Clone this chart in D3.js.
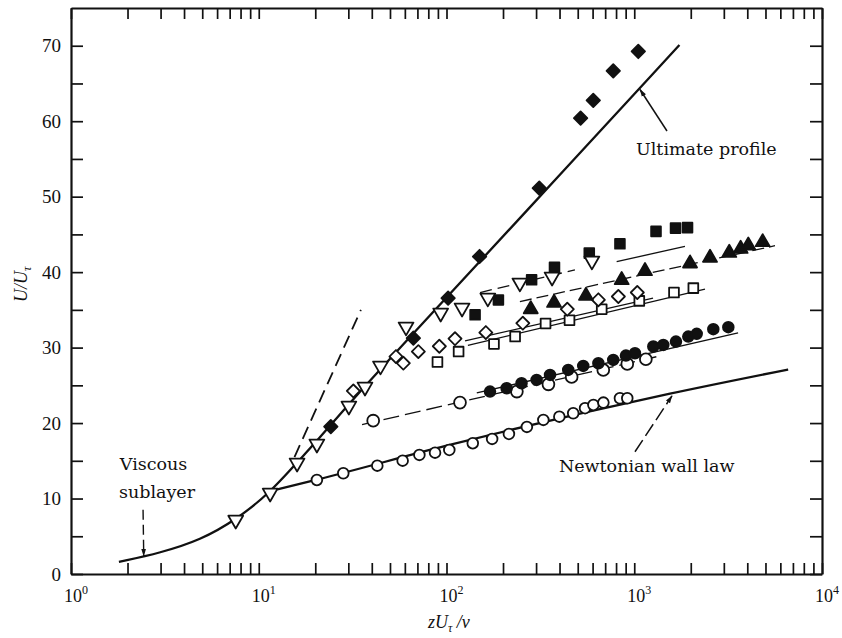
<!DOCTYPE html>
<html>
<head>
<meta charset="utf-8">
<script src="https://cdn.jsdelivr.net/npm/d3@7"></script>
<style>
  body { margin: 0; background: #fff; }
  svg text { font-family: "Liberation Serif", "DejaVu Serif", serif; fill: #111; }
  .axis path, .axis line { stroke: #111; }
  .axis path { stroke-width: 2.2; }
  .axis line { stroke-width: 1.7; }
  .note { font-family: "DejaVu Serif", serif; font-size: 17.5px; }
</style>
</head>
<body>
<svg id="chart" width="842" height="638"></svg>
<script>
// Every pair is [zU_tau/nu, U/U_tau].

// solid curve: viscous sublayer running into the ultimate profile
const ultimateProfile = [[1.8, 1.6], [3, 2.8], [4.9, 4.5], [7.6, 7.2], [11.5, 10.8], [16, 14.8],
  [20.4, 17.6], [30, 22.5], [66, 31.8], [241, 46.9], [1740, 70.1]];
// dashed U = z continuation
const sublayerDash = [[15.5, 15.5], [35, 35]];
const newtonianWallLaw = [[12.5, 11.2], [20.4, 12.5], [100, 17.0], [1550, 23.9], [6600, 27.1]];

// fitted lines through the groups
const circleLine = [[35.5, 19.8], [1372, 28.9]];
const dotLine = [[145, 24.0], [3573, 31.95]];
const diamondLine = [[125.5, 30.9], [1259, 36.55]];
const squareLine = [[130, 30.3], [2381, 37.74]];
const triangleUpLine = [[246, 36.1], [5620, 43.5]];
const triangleDownLine = [[151, 37.3], [483, 40.3]];
const blockLine = [[806, 41.4], [1862, 43.4]];

// measured points
const openTriangles = [[7.54, 7.16], [11.5, 10.74], [16.0, 14.72], [20.4, 17.24], [30.2, 22.27],
  [36.8, 24.79], [44.5, 27.58], [60.9, 32.75], [93.1, 34.6], [121, 35.26], [166, 36.59],
  [246, 38.58], [365, 39.37], [595, 41.5]];
const filledDiamonds = [[24.2, 19.53], [66.6, 31.25], [102, 36.55], [150, 42.07], [312, 51.13],
  [518, 60.41], [605, 62.75], [773, 66.68], [1051, 69.24]];
const wallCircles = [[20.4, 12.46], [28.2, 13.35], [42.8, 14.36], [58.4, 15.02], [71.7, 15.78],
  [86.9, 16.08], [103.5, 16.44], [138, 17.33], [175, 17.9], [215, 18.56], [268, 19.49],
  [328, 20.42], [399, 20.85], [473, 21.3], [547, 21.97], [606, 22.4], [685, 22.71],
  [839, 23.29], [918, 23.29]];
const openCircles = [[40.7, 20.32], [118, 22.71], [237, 24.17], [349, 25.13], [464, 26.12],
  [684, 27.04], [918, 27.84], [1153, 28.46]];
const filledCircles = [[170.5, 24.17], [209, 24.61], [251, 25.28], [302, 25.72], [356, 26.38],
  [445, 27.04], [535, 27.57], [644, 27.93], [773, 28.37], [903, 28.94], [1009, 29.25],
  [1263, 30.14], [1428, 30.36], [1668, 30.8], [1940, 31.46], [2151, 31.82], [2637, 32.44],
  [3170, 32.71]];
const openDiamonds = [[31.9, 24.26], [53.8, 28.81], [58.9, 27.94], [70.8, 29.47], [91.6, 30.18],
  [111, 31.18], [162, 31.99], [255, 33.24], [440, 35.09], [644, 36.33], [823, 36.77],
  [1038, 37.3]];
const openSquares = [[89.5, 28.08], [116, 29.47], [179, 30.49], [232, 31.46], [337, 33.2],
  [452, 33.63], [671, 35.09], [1064, 36.19], [1628, 37.3], [2064, 37.88]];
const filledTriangles = [[281, 35.09], [374, 35.93], [553, 36.86], [857, 38.95], [1141, 40.14],
  [1982, 41.15], [2533, 41.9], [3207, 42.56], [3687, 43.09], [4050, 43.53], [4830, 43.97]];
const filledSquares = [[142, 34.34], [189, 36.32], [284, 38.98], [376, 40.63], [576, 42.52],
  [839, 43.75], [1306, 45.4], [1659, 45.83], [1922, 45.9]];

// axis labels
const decadeExponents = [0, 1, 2, 3, 4];
const uTickLabels = [0, 10, 20, 30, 40, 50, 60, 70];

const svg = d3.select("#chart");
svg.append("rect").attr("width", 842).attr("height", 638).attr("fill", "#fff");

const x = d3.scaleLog().domain([1, 1e4]).range([71, 822]);
const y = d3.scaleLinear().domain([0, 75]).range([574, 8]);

const defs = svg.append("defs");
defs.append("marker")
  .attr("id", "arrow")
  .attr("viewBox", "0 0 10 10")
  .attr("refX", 9).attr("refY", 5)
  .attr("markerWidth", 8).attr("markerHeight", 8)
  .attr("markerUnits", "userSpaceOnUse")
  .attr("orient", "auto")
  .append("path")
  .attr("d", "M0,2 L10,5 L0,8 Z")
  .attr("fill", "#111");

// axes, ticks pointing inward on all four sides
const uTicks = d3.range(0, 71, 5);
svg.append("g").attr("class", "axis")
  .attr("transform", `translate(0,${y(0)})`)
  .call(d3.axisBottom(x).tickValues(x.ticks()).tickSizeInner(-11).tickSizeOuter(0).tickFormat(""));
svg.append("g").attr("class", "axis")
  .attr("transform", `translate(0,${y(75)})`)
  .call(d3.axisTop(x).tickValues(x.ticks()).tickSizeInner(-11).tickSizeOuter(0).tickFormat(""));
svg.append("g").attr("class", "axis")
  .attr("transform", `translate(${x(1)},0)`)
  .call(d3.axisLeft(y).tickValues(uTicks).tickSizeInner(-12).tickSizeOuter(0).tickPadding(10)
    .tickFormat(d => uTickLabels.includes(d) ? d : ""))
  .selectAll("text").style("font-size", "19px");
svg.append("g").attr("class", "axis")
  .attr("transform", `translate(${x(1e4)},0)`)
  .call(d3.axisRight(y).tickValues(uTicks).tickSizeInner(-12).tickSizeOuter(0).tickFormat(""));

// decade labels 10^n
const xl = svg.append("g").selectAll("text").data(decadeExponents).enter().append("text")
  .attr("x", d => x(Math.pow(10, d)) - 7)
  .attr("y", 602)
  .style("font-size", "18px");
xl.append("tspan").text("10");
xl.append("tspan").attr("dy", -8).style("font-size", "12px").text(d => d);

// axis titles
const xt = svg.append("text").attr("x", 428).attr("y", 628)
  .style("font-size", "18px").style("font-style", "italic");
xt.append("tspan").text("zU");
xt.append("tspan").attr("dy", 4).style("font-size", "12px").text("τ");
xt.append("tspan").attr("dy", -4).text(" /ν");

const yt = svg.append("text").attr("transform", "translate(27,302) rotate(-90)")
  .style("font-size", "18px").style("font-style", "italic");
yt.append("tspan").text("U/U");
yt.append("tspan").attr("dy", 4).style("font-size", "12px").text("τ");

// lines
const line = d3.line().x(d => x(d[0])).y(d => y(d[1]));
const smooth = d3.line().x(d => x(d[0])).y(d => y(d[1])).curve(d3.curveMonotoneX);
const soft = d3.line().x(d => x(d[0])).y(d => y(d[1])).curve(d3.curveBasis);

const lines = [
  { data: ultimateProfile, gen: soft, width: 2.3, dash: null },
  { data: newtonianWallLaw, gen: smooth, width: 2.3, dash: null },
  { data: sublayerDash, gen: line, width: 1.8, dash: "13 7" },
  { data: circleLine, gen: line, width: 1.3, dash: "16 6" },
  { data: dotLine, gen: line, width: 1.3, dash: null },
  { data: diamondLine, gen: line, width: 1.2, dash: null },
  { data: squareLine, gen: line, width: 1.2, dash: null },
  { data: triangleUpLine, gen: line, width: 1.3, dash: "12 5" },
  { data: triangleDownLine, gen: line, width: 1.3, dash: "12 6" },
  { data: blockLine, gen: line, width: 1.3, dash: null }
];
svg.append("g").selectAll("path").data(lines).enter().append("path")
  .attr("d", d => d.gen(d.data))
  .attr("fill", "none")
  .attr("stroke", "#111")
  .attr("stroke-width", d => d.width)
  .attr("stroke-dasharray", d => d.dash);

// markers
const series = [
  { data: wallCircles, type: d3.symbolCircle, size: 90, rotate: 0, filled: false },
  { data: openCircles, type: d3.symbolCircle, size: 110, rotate: 0, filled: false },
  { data: filledCircles, type: d3.symbolCircle, size: 90, rotate: 0, filled: true },
  { data: openSquares, type: d3.symbolSquare, size: 95, rotate: 0, filled: false },
  { data: openDiamonds, type: d3.symbolSquare, size: 85, rotate: 45, filled: false },
  { data: filledTriangles, type: d3.symbolTriangle, size: 85, rotate: 0, filled: true },
  { data: filledSquares, type: d3.symbolSquare, size: 95, rotate: 0, filled: true },
  { data: openTriangles, type: d3.symbolTriangle, size: 95, rotate: 180, filled: false },
  { data: filledDiamonds, type: d3.symbolSquare, size: 90, rotate: 45, filled: true }
];
series.forEach(s => {
  svg.append("g").selectAll("path").data(s.data).enter().append("path")
    .attr("d", d3.symbol().type(s.type).size(s.size))
    .attr("transform", d => `translate(${x(d[0])},${y(d[1])}) rotate(${s.rotate})`)
    .attr("fill", s.filled ? "#111" : "#fff")
    .attr("stroke", "#111")
    .attr("stroke-width", 1.8)
    .attr("stroke-linejoin", "round");
});

// annotations
svg.append("text").attr("class", "note").attr("x", x(1022)).attr("y", y(55.5)).text("Ultimate profile");
svg.append("line")
  .attr("x1", x(1494)).attr("y1", y(58.7)).attr("x2", x(1073)).attr("y2", y(64.2))
  .attr("stroke", "#111").attr("stroke-width", 1.5).attr("marker-end", "url(#arrow)");

svg.append("text").attr("class", "note").attr("x", x(397)).attr("y", y(13.5)).text("Newtonian wall law");
svg.append("line")
  .attr("x1", x(1009)).attr("y1", y(16.2)).attr("x2", x(1588)).attr("y2", y(23.6))
  .attr("stroke", "#111").attr("stroke-width", 1.5).attr("stroke-dasharray", "14 5")
  .attr("marker-end", "url(#arrow)");

svg.append("text").attr("class", "note").attr("x", x(1.82)).attr("y", y(13.8)).text("Viscous");
svg.append("text").attr("class", "note").attr("x", x(1.8)).attr("y", y(10.1)).text("sublayer");
svg.append("line")
  .attr("x1", x(2.42)).attr("y1", y(8.5)).attr("x2", x(2.44)).attr("y2", y(2.4))
  .attr("stroke", "#111").attr("stroke-width", 1.4).attr("stroke-dasharray", "10 5")
  .attr("marker-end", "url(#arrow)");
</script>
</body>
</html>
